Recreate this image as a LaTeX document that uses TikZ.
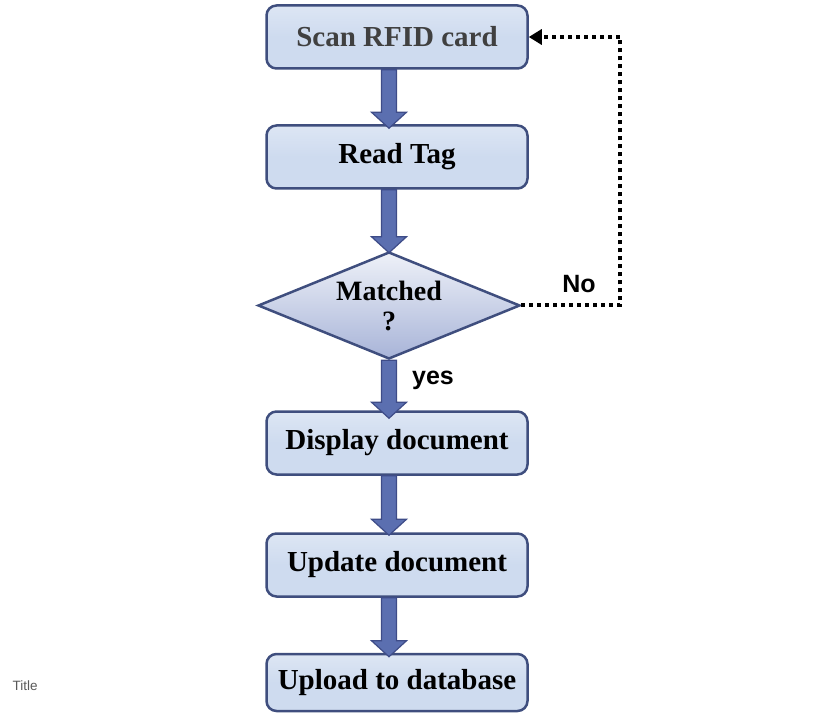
\documentclass[tikz,border=0pt]{standalone}
\usepackage{fontspec}
\setmainfont{Liberation Serif}
\newfontfamily\arialfont{Liberation Sans}
\usetikzlibrary{shapes.geometric,calc,arrows.meta}
\definecolor{boxfill}{HTML}{CEDBEF}
\definecolor{boxline}{HTML}{3F4E7E}
\definecolor{arrfill}{HTML}{5B6FB0}
\definecolor{arrline}{HTML}{3E4C88}
\definecolor{diatop}{HTML}{EEF1F8}
\definecolor{diabot}{HTML}{A8B4D8}
\definecolor{titlegray}{HTML}{595959}
\tikzset{
  stepbox/.style={rectangle, rounded corners=10pt, draw=boxline, line width=2.5pt,
    top color=boxfill!70!white, bottom color=boxfill, middle color=boxfill, minimum width=261pt, minimum height=63pt,
    inner sep=0pt, font=\fontsize{29}{30}\selectfont\bfseries},
  decision/.style={diamond, draw=boxline, line width=2.5pt, top color=diatop, bottom color=diabot,
    minimum width=262pt, minimum height=107pt, aspect=2.45, inner sep=0pt, align=center,
    font=\fontsize{28}{30}\selectfont\bfseries},
  blockarr/.style={fill=arrfill, draw=arrline, line width=1.2pt, line join=miter},
  dotline/.style={line width=4pt, dash pattern=on 4pt off 4pt, -{Triangle[width=15pt,length=13pt]}},
  lbl/.style={font=\arialfont\fontsize{25}{28}\selectfont\bfseries}
}
\newcommand\blockarrow[3]{%
  \filldraw[blockarr] let \p1=(#1.south), \p2=(#2.north), \p3=(dia.center) in
    (\x3-7.5pt,\y1) -- (\x3+7.5pt,\y1) -- (\x3+7.5pt,\y2-#3+16pt) -- (\x3+17.5pt,\y2-#3+16pt)
    -- (\x3,\y2-#3) -- (\x3-17.5pt,\y2-#3+16pt) -- (\x3-7.5pt,\y2-#3+16pt) -- cycle;}
\begin{document}
\begin{tikzpicture}[x=1pt,y=-1pt]
\useasboundingbox (0,0) rectangle (828,714);
\node[stepbox, text=black!75] (b1) at (397,37) {Scan RFID card};
\node[stepbox] (b2) at (397,157) {Read Tag};
\node[decision] (dia) at (389,305.5) {Matched\\?};
\node[stepbox] (b4) at (397,443) {Display document};
\node[stepbox] (b5) at (397,565) {Update document};
\node[stepbox, minimum height=57pt] (b6) at (397,682.5) {Upload to database};
\blockarrow{b1}{b2}{4pt}
\blockarrow{b2}{dia}{2pt}
\blockarrow{dia}{b4}{8pt}
\blockarrow{b4}{b5}{3pt}
\blockarrow{b5}{b6}{4pt}
\draw[dotline] (dia.east) -- ++(99,0) |- (b1.east);
\node[lbl] (no) at (579,284) {No};
\node[lbl] (yes) at (433,380) {yes};
\node[font=\arialfont\fontsize{13.5}{15}\selectfont, text=titlegray, anchor=west] (title) at (9,686) {Title};
\end{tikzpicture}
\end{document}
